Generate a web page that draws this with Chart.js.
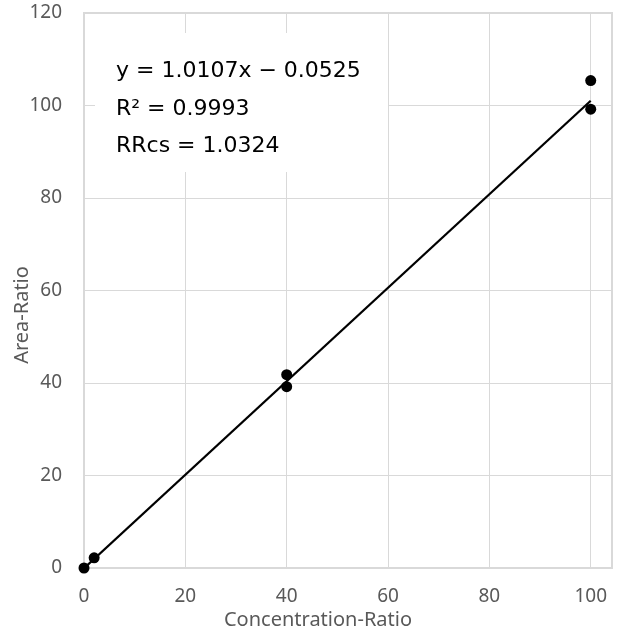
<!DOCTYPE html>
<html>
<head>
<meta charset="utf-8">
<script src="https://cdn.jsdelivr.net/npm/chart.js@4"></script>
<style>
  html, body { margin: 0; padding: 0; background: #fff; }
  #wrap { width: 619px; height: 639px; }
</style>
</head>
<body>
<div id="wrap"><canvas id="myChart" width="619" height="639"></canvas></div>
<script>
// Dados
const concX = [0, 2, 40, 40, 100, 100];
const areaY = [0, 2.2, 41.8, 39.2, 105.4, 99.2];

// Linha de tendência (extremos)
const trendX = [0, 100];
const trendY = [-0.05, 101.02];

// Rótulos dos eixos
const xTicks = [0, 20, 40, 60, 80, 100];
const yTicks = [0, 20, 40, 60, 80, 100, 120];
const xTitle = "Concentration-Ratio";
const yTitle = "Area-Ratio";
const eqLines = ["y = 1.0107x − 0.0525", "R² = 0.9993", "RRcs = 1.0324"];

const gray = "#595959";
const gridColor = "#d9d9d9";

// Caixa de texto, moldura e títulos dos eixos
const extras = {
  id: "extras",
  beforeDatasetsDraw(chart) {
    const { ctx, chartArea: a } = chart;
    ctx.save();
    // moldura da área do gráfico
    ctx.strokeStyle = gridColor;
    ctx.lineWidth = 2;
    ctx.strokeRect(a.left, a.top, a.right - a.left, a.bottom - a.top);
    // caixa da equação
    ctx.fillStyle = "#fff";
    ctx.fillRect(95, 33, 293, 139);
    ctx.fillStyle = "#000";
    ctx.font = '22px "DejaVu Sans"';
    ctx.textBaseline = "alphabetic";
    ctx.textAlign = "left";
    eqLines.forEach((t, i) => ctx.fillText(t, 116, 77 + i * 37.5));
    ctx.restore();
  },
  afterDraw(chart) {
    const { ctx } = chart;
    ctx.save();
    ctx.fillStyle = gray;
    ctx.font = '20px "Noto Sans"';
    ctx.textAlign = "center";
    ctx.textBaseline = "middle";
    ctx.fillText(xTitle, 318, 620);
    ctx.translate(22, 315);
    ctx.rotate(-Math.PI / 2);
    ctx.fillText(yTitle, 0, 0);
    ctx.restore();
  },
};

const data = {
  datasets: [
    {
      label: "Area-Ratio",
      data: concX.map((x, i) => ({ x: x, y: areaY[i] })),
      backgroundColor: "#000",
      borderWidth: 0,
      pointRadius: 5.5,
      pointHoverRadius: 5.5,
      clip: false,
      order: 1,
    },
    {
      label: "Trend",
      data: trendX.map((x, i) => ({ x: x, y: trendY[i] })),
      showLine: true,
      borderColor: "#000",
      borderWidth: 2.25,
      pointRadius: 0,
      order: 2,
    },
  ],
};

const config = {
  type: "scatter",
  data: data,
  plugins: [extras],
  options: {
    responsive: false,
    animation: false,
    layout: { padding: { top: 13, right: 7, left: 0, bottom: 0 } },
    plugins: { legend: { display: false }, tooltip: { enabled: false } },
    scales: {
      x: {
        type: "linear",
        min: 0,
        max: 104.2,
        afterFit: (s) => {
          s.height = 71;
          s.paddingLeft = 0;
          s.paddingRight = 0;
        },
        afterBuildTicks: (s) => { s.ticks = xTicks.map((v) => ({ value: v })); },
        border: { display: false },
        grid: { color: gridColor, lineWidth: 1, tickLength: 0 },
        ticks: { color: gray, font: { family: "Noto Sans", size: 19 }, padding: 17 },
      },
      y: {
        min: 0,
        max: 120,
        afterFit: (s) => {
          s.width = 84;
          s.paddingTop = 0;
          s.paddingBottom = 0;
        },
        afterBuildTicks: (s) => { s.ticks = yTicks.map((v) => ({ value: v })); },
        border: { display: false },
        grid: { color: gridColor, lineWidth: 1, tickLength: 0 },
        ticks: { color: gray, font: { family: "Noto Sans", size: 19 }, padding: 22 },
      },
    },
  },
};

const ctx = document.getElementById("myChart").getContext("2d");
new Chart(ctx, config);
</script>
</body>
</html>
